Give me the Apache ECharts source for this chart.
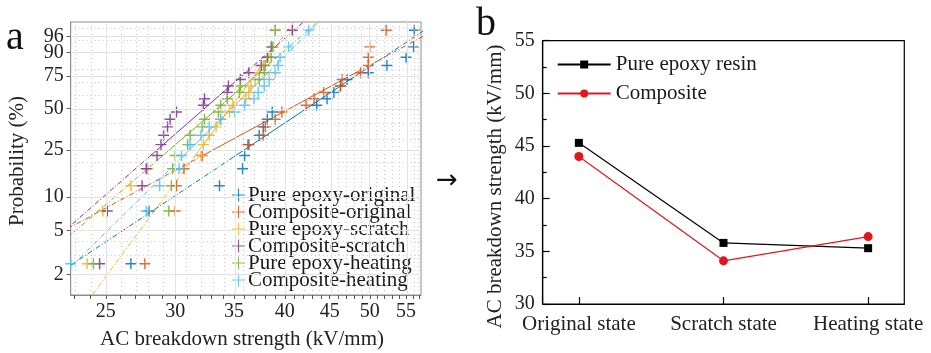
<!DOCTYPE html>
<html><head><meta charset="utf-8">
<script src="https://cdn.jsdelivr.net/npm/echarts@6/dist/echarts.min.js"></script>
<style>html,body{margin:0;padding:0;background:#fff}#c{width:931px;height:353px}</style>
</head><body><div id="c"></div>
<script>
// ---------- Panel a : Weibull plot ----------
const seriesNames = ['Pure epoxy-original','Composite-original','Pure epoxy-scratch','Composite-scratch','Pure epoxy-heating','Composite-heating'];
const seriesColors = ['#0072BD','#D95319','#EDB120','#7E2F8E','#77AC30','#4DBEEE'];
const probLevels = [2.5,7.5,12.5,17.5,22.5,27.5,32.5,37.5,42.5,47.5,52.5,57.5,62.5,67.5,72.5,77.5,82.5,87.5,92.5,97.5];
const pureEpoxyOriginal = [26.7,28.0,33.7,35.8,36.0,36.4,37.4,37.8,38.2,38.7,43.5,44.7,45.5,46.3,47.1,49.8,52.3,55.0,56.1,56.2];
const compositeOriginal = [27.7,30.0,30.1,30.7,32.2,36.3,37.8,38.0,39.0,39.7,42.3,43.2,44.3,46.3,46.5,48.8,49.8,49.8,50.0,52.2];
const pureEpoxyScratch  = [23.8,24.8,26.7,27.9,32.1,32.3,32.8,33.4,33.8,34.6,34.9,36.1,36.4,36.6,37.0,37.4,37.8,38.3,38.8,39.0];
const compositeScratch  = [24.6,25.1,27.5,27.8,28.6,28.9,29.1,29.4,29.6,30.1,32.3,32.4,34.4,34.5,35.6,36.4,37.6,38.2,38.6,40.8];
const pureEpoxyHeating  = [24.2,29.5,29.7,29.8,30.0,31.0,31.2,32.2,32.4,33.6,33.8,34.4,35.5,35.6,37.4,37.9,38.0,38.6,38.7,39.0];
const compositeHeating  = [22.8,27.8,28.8,30.3,30.5,31.2,32.1,32.8,33.8,35.1,36.0,36.9,37.3,37.9,38.4,39.0,39.3,39.5,40.4,42.6];
const weibullScale = [45.3,44.0,35.8,34.1,35.3,36.4];   // alpha (kV/mm)
const weibullShape = [5.4,4.4,11.0,7.1,7.0,8.0];        // beta
const solidRange = [22,78];                              // % range drawn solid
const xTickLabels = [25,30,35,40,45,50,55];
const xMinorTicks = [23,24,25,26,27,28,29,30,31,32,33,34,35,36,37,38,39,40,41,42,43,44,45,46,47,48,49,50,51,52,53,54,55,56,57];
const yTickLabels = [2,5,10,25,50,75,90,96];
const yMinorGrid = [3,4,20,30,40,60,70,80,95,98];
const xRange = [22.8,57.2];
const yRange = [1.29,98.78];

// ---------- Panel b : line chart ----------
const states = ['Original state','Scratch state','Heating state'];
const pureEpoxyResin = [45.3,35.8,35.3];
const composite = [44.0,34.1,36.4];

const FONT = '"Liberation Serif", "Times New Roman", Times, serif';
const lx = v => Math.log(v);
const wy = p => Math.log(-Math.log(1 - p/100));
const pFromW = w => 100*(1-Math.exp(-Math.exp(w)));

const allData = [pureEpoxyOriginal,compositeOriginal,pureEpoxyScratch,compositeScratch,pureEpoxyHeating,compositeHeating];
const crossPath = 'path://M4.35,0H5.65V4.35H10V5.65H5.65V10H4.35V5.65H0V4.35H4.35Z';
const legendCross = 'path://M6,0H7V6H13V7H7V13H6V7H0V6H6Z';

const series = [];
const gridMarks = [];
xMinorTicks.forEach(v => { if (xTickLabels.indexOf(v) < 0) gridMarks.push({xAxis: lx(v), lineStyle:{type:[1,3],color:'#c8c8c8',width:1}}); });
yMinorGrid.forEach(p => gridMarks.push({yAxis: wy(p), lineStyle:{type:[1,3],color:'#c8c8c8',width:1}}));
xTickLabels.forEach(v => gridMarks.push({xAxis: lx(v), lineStyle:{type:'solid',color:'#e3e3e3',width:1}}));
yTickLabels.forEach(p => gridMarks.push({yAxis: wy(p), lineStyle:{type:'solid',color:'#e3e3e3',width:1}}));
series.push({
  type:'line', xAxisIndex:0, yAxisIndex:0, data:[[lx(30), wy(50)]], showSymbol:false, symbolSize:0,
  lineStyle:{opacity:0}, z:0, silent:true,
  markLine:{silent:true, symbol:['none','none'], label:{show:false}, animation:false, data: gridMarks}
});

allData.forEach((arr, k) => {
  const a = weibullScale[k], b = weibullShape[k], col = seriesColors[k];
  const pt = p => { const w = wy(p); return [lx(a*Math.exp(w/b)), w]; };
  series.push({type:'line', xAxisIndex:0, yAxisIndex:0, data:[pt(0.05), pt(solidRange[0])], showSymbol:false, silent:true, z:2,
    lineStyle:{color:col, width:1, type:[5,2,1,2]}, clip:true});
  series.push({type:'line', xAxisIndex:0, yAxisIndex:0, data:[pt(solidRange[1]), pt(99.99)], showSymbol:false, silent:true, z:2,
    lineStyle:{color:col, width:1, type:[5,2,1,2]}, clip:true});
  series.push({type:'line', xAxisIndex:0, yAxisIndex:0, data:[pt(solidRange[0]), pt(solidRange[1])], showSymbol:false, silent:true, z:2,
    lineStyle:{color:col, width:1, type:'solid'}, clip:true});
  series.push({
    name: seriesNames[k], type:'scatter', xAxisIndex:0, yAxisIndex:0, z:3, clip:false,
    symbol: crossPath, symbolSize: 11,
    itemStyle:{color: col, opacity:0.85},
    data: arr.map((v,i) => [lx(v), wy(probLevels[i])])
  });
});

series.push({name:'Pure epoxy resin', type:'line', xAxisIndex:1, yAxisIndex:1,
  data: pureEpoxyResin.map((v,i)=>[i,v]), symbol:'rect', symbolSize:8,
  lineStyle:{color:'#000', width:1.2}, itemStyle:{color:'#000'}, z:3});
series.push({name:'Composite', type:'line', xAxisIndex:1, yAxisIndex:1,
  data: composite.map((v,i)=>[i,v]), symbol:'circle', symbolSize:9,
  lineStyle:{color:'#e3161d', width:1.2}, itemStyle:{color:'#e3161d'}, z:3});

const axisGray = '#8c8c8c';
const yLabelsMain = yTickLabels.filter(p => p !== 96);
const yLabelsTop = yTickLabels.filter(p => p === 96);
const option = {
  animation:false,
  backgroundColor:'#fff',
  textStyle:{fontFamily:FONT},
  grid:[
    {left:70.7, top:22, width:350.3, height:273, show:true, borderColor:axisGray, borderWidth:1, backgroundColor:'transparent'},
    {left:542.7, top:40.7, width:361.6, height:263.3, show:true, borderColor:'#000', borderWidth:1.2, backgroundColor:'transparent'}
  ],
  xAxis:[
    {type:'value', gridIndex:0, min:lx(xRange[0]), max:lx(xRange[1]), position:'bottom',
     axisLine:{show:true, onZero:false, lineStyle:{color:axisGray, width:1}},
     axisTick:{show:true, customValues: xMinorTicks.map(lx), length:4, lineStyle:{color:'#555'}},
     axisLabel:{customValues: xTickLabels.map(lx), hideOverlap:false, formatter: v => String(Math.round(Math.exp(v))), fontFamily:FONT, fontSize:20, color:'#222', margin:7},
     splitLine:{show:false}},
    {type:'value', gridIndex:1, min:-0.25, max:2.25, position:'bottom',
     axisLine:{show:true, onZero:false, lineStyle:{color:'#000', width:1.2}},
     axisTick:{show:true, inside:true, length:7, customValues:[0,1,2], lineStyle:{color:'#000', width:1.2}},
     axisLabel:{customValues:[0,1,2], formatter: v => states[Math.round(v)], fontFamily:FONT, fontSize:21, color:'#222', margin:10},
     splitLine:{show:false}}
  ],
  yAxis:[
    {type:'value', gridIndex:0, min:wy(yRange[0]), max:wy(yRange[1]), position:'left',
     axisLine:{show:true, onZero:false, lineStyle:{color:axisGray, width:1}},
     axisTick:{show:true, customValues: yTickLabels.map(wy), length:4, lineStyle:{color:'#555'}},
     axisLabel:{customValues: yLabelsMain.map(wy), hideOverlap:false, formatter: v => String(Math.round(pFromW(v))), fontFamily:FONT, fontSize:20, color:'#222', margin:7},
     splitLine:{show:false}},
    {type:'value', gridIndex:1, min:30, max:55, interval:5, position:'left',
     axisLine:{show:true, onZero:false, lineStyle:{color:'#000', width:1.2}},
     axisTick:{show:true, inside:true, length:7, lineStyle:{color:'#000', width:1.2}},
     minorTick:{show:true, splitNumber:2, length:4, lineStyle:{color:'#000', width:1.2}},
     axisLabel:{fontFamily:FONT, fontSize:20, color:'#222', margin:8},
     splitLine:{show:false}},
    {type:'value', gridIndex:0, min:wy(yRange[0]), max:wy(yRange[1]), position:'left', offset:0,
     axisLine:{show:false, onZero:false},
     axisTick:{show:false, customValues: yLabelsTop.map(wy)},
     axisLabel:{customValues: yLabelsTop.map(wy), formatter: v => String(Math.round(pFromW(v))), fontFamily:FONT, fontSize:20, color:'#222', margin:7},
     splitLine:{show:false}}
  ],
  legend:[
    {orient:'vertical', left:227, top:179.5, itemWidth:13, itemHeight:13, itemGap:-4,
     textStyle:{fontFamily:FONT, fontSize:21, color:'#1a1a1a', padding:[0,0,0,-2]},
     data: seriesNames.map((n,k)=>({name:n, icon:legendCross, itemStyle:{color:seriesColors[k]}})),
     selectedMode:false},
    {orient:'vertical', left:551.7, top:49, itemWidth:53, itemHeight:10, itemGap:8,
     textStyle:{fontFamily:FONT, fontSize:21, color:'#1a1a1a'},
     data:['Pure epoxy resin','Composite'], selectedMode:false}
  ],
  graphic:[
    {type:'text', x:6, y:38.5, style:{text:'a', font:'40px ' + FONT, fill:'#111', verticalAlign:'middle'}},
    {type:'text', x:476, y:24.5, style:{text:'b', font:'40px ' + FONT, fill:'#111', verticalAlign:'middle'}},
    {type:'text', x:447, y:181, style:{text:'→', font:'26px "DejaVu Sans"', fill:'#111', align:'center', verticalAlign:'middle'}},
    {type:'text', x:17, y:161, rotation:Math.PI/2, style:{text:'Probability (%)', font:'21px ' + FONT, fill:'#222', align:'center', verticalAlign:'middle'}},
    {type:'text', x:242, y:339, style:{text:'AC breakdown strength (kV/mm)', font:'21px ' + FONT, fill:'#222', align:'center', verticalAlign:'middle'}},
    {type:'text', x:495, y:186.5, rotation:Math.PI/2, style:{text:'AC breakdown strength (kV/mm)', font:'21px ' + FONT, fill:'#222', align:'center', verticalAlign:'middle'}}
  ],
  series: series
};
const chart = echarts.init(document.getElementById('c'), null, {renderer:'canvas'});
chart.setOption(option);
</script></body></html>
